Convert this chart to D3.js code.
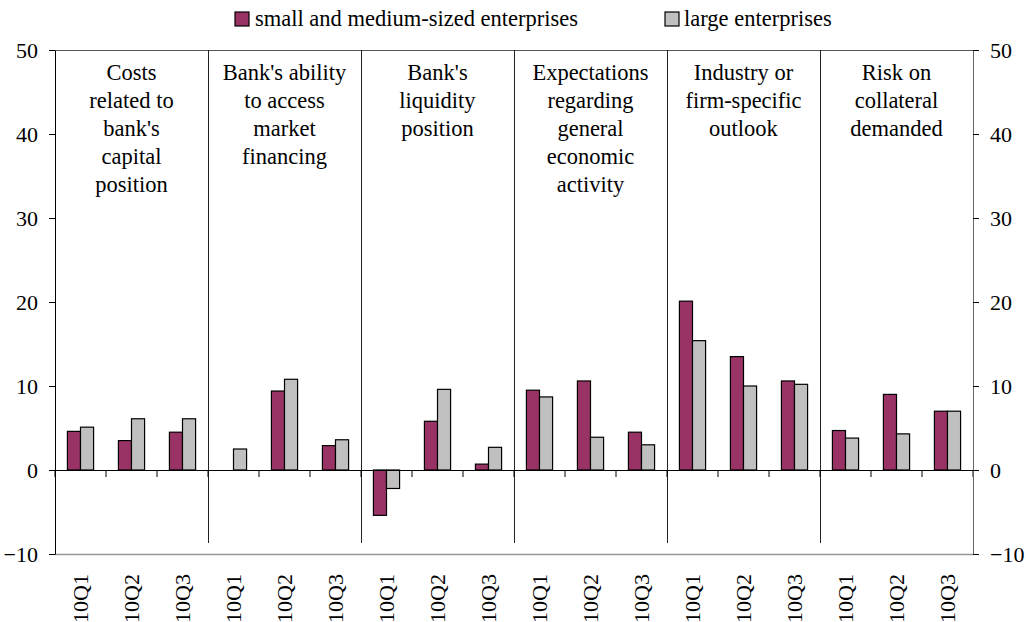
<!DOCTYPE html>
<html><head><meta charset="utf-8">
<script src="https://cdn.jsdelivr.net/npm/d3@7"></script>
<style>body{margin:0;background:#fff}</style>
</head><body><svg id="c" width="1026" height="622" font-family="Liberation Serif"></svg>
<script>
const groups = [
  ["Costs","related to","bank's","capital","position"],
  ["Bank's ability","to access","market","financing"],
  ["Bank's","liquidity","position"],
  ["Expectations","regarding","general","economic","activity"],
  ["Industry or","firm-specific","outlook"],
  ["Risk on","collateral","demanded"]
];
const quarters = ["10Q1","10Q2","10Q3"];
const seriesNames = ["small and medium-sized enterprises","large enterprises"];
const smeValues =   [4.6,3.5,4.5, 0,9.4,2.9, -5.4,5.8,0.7, 9.5,10.6,4.5, 20.1,13.5,10.6, 4.7,9.0,7.0];
const largeValues = [5.1,6.1,6.1, 2.5,10.8,3.6, -2.2,9.6,2.7, 8.7,3.9,3.0, 15.4,10.0,10.2, 3.8,4.3,7.0];
const yTicks = [-10,0,10,20,30,40,50];
const colors = ["#993366","#c0c0c0"];
const FONT = "Liberation Serif";

const svg = d3.select("#c");
const L=55, R=973, T=50, B=554;
const cats = [];
groups.forEach((g,gi)=>quarters.forEach((q,qi)=>cats.push(gi+"-"+q)));
const x = d3.scaleBand().domain(cats).range([L,R]).paddingInner(0).paddingOuter(0);
const x1 = d3.scaleBand().domain([0,1]).range([0,x.bandwidth()]).paddingInner(0).paddingOuter(0.95);
const y = d3.scaleLinear().domain([-10,50]).range([B,T]);

// frame
svg.append("line").attr("x1",L).attr("x2",R).attr("y1",T+0.5).attr("y2",T+0.5).attr("stroke","#555");
svg.append("line").attr("x1",L).attr("x2",R).attr("y1",B+0.5).attr("y2",B+0.5).attr("stroke","#999").attr("stroke-width",1.5);

// separators
for(let g=1; g<groups.length; g++){
  const xx = Math.round(x(g+"-10Q1"))+0.5;
  svg.append("line").attr("x1",xx).attr("x2",xx).attr("y1",T).attr("y2",543).attr("stroke","#222");
}

// bars
const data = cats.map((c,i)=>[smeValues[i],largeValues[i]]);
data.forEach((d,i)=>{
  d.forEach((v,s)=>{
    if(v===0) return;
    svg.append("rect")
      .attr("x",x(cats[i])+x1(s)).attr("width",x1.bandwidth())
      .attr("y",y(Math.max(0,v))).attr("height",Math.abs(y(v)-y(0)))
      .attr("fill",colors[s]).attr("stroke","#000").attr("stroke-width",1.2);
  });
});

// zero line with category ticks
const zeroAxis = d3.axisBottom(x).tickSize(7).tickFormat("").tickSizeOuter(0);
const zg = svg.append("g").attr("transform",`translate(0,${y(0)})`).call(zeroAxis);
zg.selectAll(".tick").attr("transform",d=>`translate(${x(d)},0)`);
zg.select(".domain").attr("stroke","#000");
zg.selectAll("line").attr("stroke","#000");
zg.append("line").attr("x1",R).attr("x2",R).attr("y1",0).attr("y2",7).attr("stroke","#000");

// left axis
const la = svg.append("g").attr("transform",`translate(${L},0)`).call(d3.axisLeft(y).tickValues(yTicks).tickSize(6).tickPadding(11).tickSizeOuter(0));
la.attr("font-family",FONT);
la.select(".domain").attr("stroke","#000");
la.selectAll("text").style("font-size","22px").style("font-family",FONT).attr("dy","0.35em");
// right axis
const ra = svg.append("g").attr("transform",`translate(${R},0)`).call(d3.axisRight(y).tickValues(yTicks).tickSize(6).tickPadding(11).tickSizeOuter(0));
ra.attr("font-family",FONT);
ra.select(".domain").attr("stroke","#666");
ra.selectAll("text").style("font-size","22px").style("font-family",FONT).attr("dy","0.35em");

// x labels
cats.forEach((c,i)=>{
  const cx = x(c)+x.bandwidth()/2;
  svg.append("text").attr("transform",`translate(${cx+7.5},574) rotate(-90)`)
    .attr("text-anchor","end").style("font-size","22px").style("font-family",FONT).text(quarters[i%3]);
});

// group labels
groups.forEach((g,gi)=>{
  const cx = x(gi+"-10Q2")+x.bandwidth()/2;
  const t = svg.append("text").attr("text-anchor","middle").style("font-size","22.5px").style("font-family",FONT);
  g.forEach((line,li)=>t.append("tspan").attr("x",cx).attr("y",80+li*28).text(line));
});

// legend
const leg = [[235,255],[665,684]];
seriesNames.forEach((n,i)=>{
  svg.append("rect").attr("x",leg[i][0]).attr("y",12).attr("width",14).attr("height",14)
    .attr("fill",colors[i]).attr("stroke","#000").attr("stroke-width",1.2);
  svg.append("text").attr("x",leg[i][1]).attr("y",26).style("font-size","22.5px").style("font-family",FONT).text(n);
});
</script></body></html>
